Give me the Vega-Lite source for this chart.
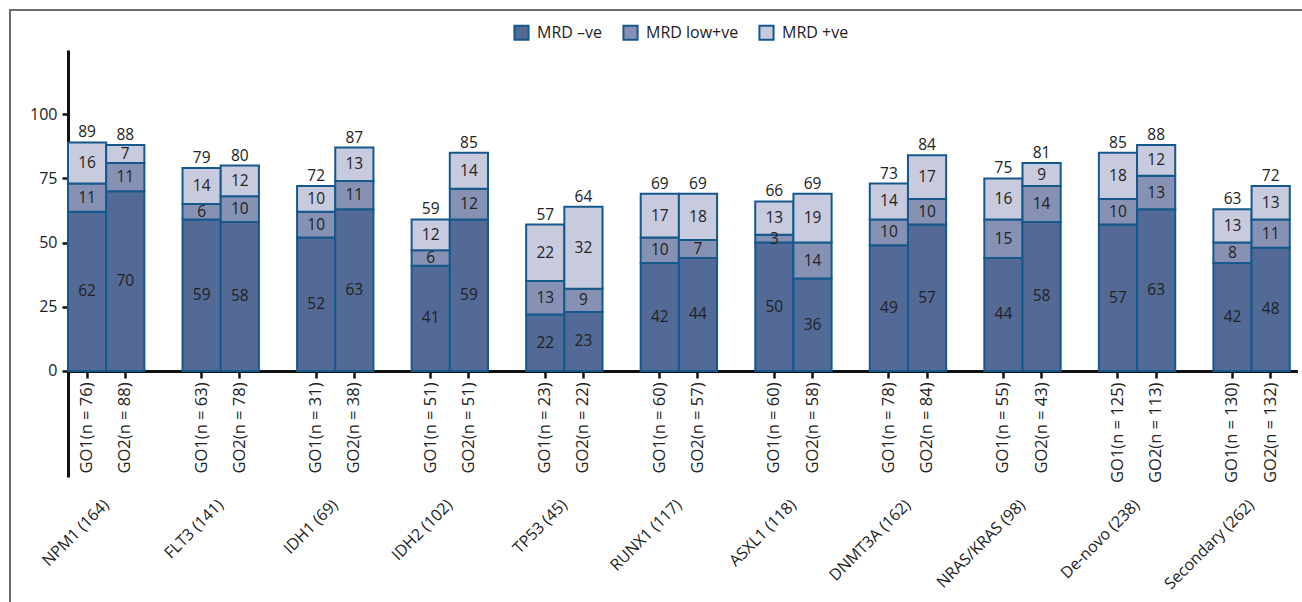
{
  "$schema": "https://vega.github.io/schema/vega-lite/v6.json",
  "width": 1292,
  "height": 592,
  "autosize": {"type": "none"},
  "padding": {"left": 10, "top": 10, "right": 0, "bottom": 0},
  "background": "white",
  "config": {
    "font": "Open Sans",
    "view": {"stroke": "#6d6d6d", "strokeWidth": 2, "strokeDash": [1292, 1884, 592]},
    "text": {"font": "Open Sans", "fontSize": 15.5, "color": "#222222"},
    "axis": {"labelFont": "Open Sans", "labelColor": "#222222", "grid": false, "title": null}
  },
  "data": {
    "values": [
      {"bar": "NPM1 (164)|GO1(n = 76)", "status": "MRD –ve", "value": 62},
      {"bar": "NPM1 (164)|GO1(n = 76)", "status": "MRD low+ve", "value": 11},
      {"bar": "NPM1 (164)|GO1(n = 76)", "status": "MRD +ve", "value": 16},
      {"bar": "NPM1 (164)|GO2(n = 88)", "status": "MRD –ve", "value": 70},
      {"bar": "NPM1 (164)|GO2(n = 88)", "status": "MRD low+ve", "value": 11},
      {"bar": "NPM1 (164)|GO2(n = 88)", "status": "MRD +ve", "value": 7},
      {"bar": "FLT3 (141)|GO1(n = 63)", "status": "MRD –ve", "value": 59},
      {"bar": "FLT3 (141)|GO1(n = 63)", "status": "MRD low+ve", "value": 6},
      {"bar": "FLT3 (141)|GO1(n = 63)", "status": "MRD +ve", "value": 14},
      {"bar": "FLT3 (141)|GO2(n = 78)", "status": "MRD –ve", "value": 58},
      {"bar": "FLT3 (141)|GO2(n = 78)", "status": "MRD low+ve", "value": 10},
      {"bar": "FLT3 (141)|GO2(n = 78)", "status": "MRD +ve", "value": 12},
      {"bar": "IDH1 (69)|GO1(n = 31)", "status": "MRD –ve", "value": 52},
      {"bar": "IDH1 (69)|GO1(n = 31)", "status": "MRD low+ve", "value": 10},
      {"bar": "IDH1 (69)|GO1(n = 31)", "status": "MRD +ve", "value": 10},
      {"bar": "IDH1 (69)|GO2(n = 38)", "status": "MRD –ve", "value": 63},
      {"bar": "IDH1 (69)|GO2(n = 38)", "status": "MRD low+ve", "value": 11},
      {"bar": "IDH1 (69)|GO2(n = 38)", "status": "MRD +ve", "value": 13},
      {"bar": "IDH2 (102)|GO1(n = 51)", "status": "MRD –ve", "value": 41},
      {"bar": "IDH2 (102)|GO1(n = 51)", "status": "MRD low+ve", "value": 6},
      {"bar": "IDH2 (102)|GO1(n = 51)", "status": "MRD +ve", "value": 12},
      {"bar": "IDH2 (102)|GO2(n = 51)", "status": "MRD –ve", "value": 59},
      {"bar": "IDH2 (102)|GO2(n = 51)", "status": "MRD low+ve", "value": 12},
      {"bar": "IDH2 (102)|GO2(n = 51)", "status": "MRD +ve", "value": 14},
      {"bar": "TP53 (45)|GO1(n = 23)", "status": "MRD –ve", "value": 22},
      {"bar": "TP53 (45)|GO1(n = 23)", "status": "MRD low+ve", "value": 13},
      {"bar": "TP53 (45)|GO1(n = 23)", "status": "MRD +ve", "value": 22},
      {"bar": "TP53 (45)|GO2(n = 22)", "status": "MRD –ve", "value": 23},
      {"bar": "TP53 (45)|GO2(n = 22)", "status": "MRD low+ve", "value": 9},
      {"bar": "TP53 (45)|GO2(n = 22)", "status": "MRD +ve", "value": 32},
      {"bar": "RUNX1 (117)|GO1(n = 60)", "status": "MRD –ve", "value": 42},
      {"bar": "RUNX1 (117)|GO1(n = 60)", "status": "MRD low+ve", "value": 10},
      {"bar": "RUNX1 (117)|GO1(n = 60)", "status": "MRD +ve", "value": 17},
      {"bar": "RUNX1 (117)|GO2(n = 57)", "status": "MRD –ve", "value": 44},
      {"bar": "RUNX1 (117)|GO2(n = 57)", "status": "MRD low+ve", "value": 7},
      {"bar": "RUNX1 (117)|GO2(n = 57)", "status": "MRD +ve", "value": 18},
      {"bar": "ASXL1 (118)|GO1(n = 60)", "status": "MRD –ve", "value": 50},
      {"bar": "ASXL1 (118)|GO1(n = 60)", "status": "MRD low+ve", "value": 3},
      {"bar": "ASXL1 (118)|GO1(n = 60)", "status": "MRD +ve", "value": 13},
      {"bar": "ASXL1 (118)|GO2(n = 58)", "status": "MRD –ve", "value": 36},
      {"bar": "ASXL1 (118)|GO2(n = 58)", "status": "MRD low+ve", "value": 14},
      {"bar": "ASXL1 (118)|GO2(n = 58)", "status": "MRD +ve", "value": 19},
      {"bar": "DNMT3A (162)|GO1(n = 78)", "status": "MRD –ve", "value": 49},
      {"bar": "DNMT3A (162)|GO1(n = 78)", "status": "MRD low+ve", "value": 10},
      {"bar": "DNMT3A (162)|GO1(n = 78)", "status": "MRD +ve", "value": 14},
      {"bar": "DNMT3A (162)|GO2(n = 84)", "status": "MRD –ve", "value": 57},
      {"bar": "DNMT3A (162)|GO2(n = 84)", "status": "MRD low+ve", "value": 10},
      {"bar": "DNMT3A (162)|GO2(n = 84)", "status": "MRD +ve", "value": 17},
      {"bar": "NRAS/KRAS (98)|GO1(n = 55)", "status": "MRD –ve", "value": 44},
      {"bar": "NRAS/KRAS (98)|GO1(n = 55)", "status": "MRD low+ve", "value": 15},
      {"bar": "NRAS/KRAS (98)|GO1(n = 55)", "status": "MRD +ve", "value": 16},
      {"bar": "NRAS/KRAS (98)|GO2(n = 43)", "status": "MRD –ve", "value": 58},
      {"bar": "NRAS/KRAS (98)|GO2(n = 43)", "status": "MRD low+ve", "value": 14},
      {"bar": "NRAS/KRAS (98)|GO2(n = 43)", "status": "MRD +ve", "value": 9},
      {"bar": "De-novo (238)|GO1(n = 125)", "status": "MRD –ve", "value": 57},
      {"bar": "De-novo (238)|GO1(n = 125)", "status": "MRD low+ve", "value": 10},
      {"bar": "De-novo (238)|GO1(n = 125)", "status": "MRD +ve", "value": 18},
      {"bar": "De-novo (238)|GO2(n = 113)", "status": "MRD –ve", "value": 63},
      {"bar": "De-novo (238)|GO2(n = 113)", "status": "MRD low+ve", "value": 13},
      {"bar": "De-novo (238)|GO2(n = 113)", "status": "MRD +ve", "value": 12},
      {"bar": "Secondary (262)|GO1(n = 130)", "status": "MRD –ve", "value": 42},
      {"bar": "Secondary (262)|GO1(n = 130)", "status": "MRD low+ve", "value": 8},
      {"bar": "Secondary (262)|GO1(n = 130)", "status": "MRD +ve", "value": 13},
      {"bar": "Secondary (262)|GO2(n = 132)", "status": "MRD –ve", "value": 48},
      {"bar": "Secondary (262)|GO2(n = 132)", "status": "MRD low+ve", "value": 11},
      {"bar": "Secondary (262)|GO2(n = 132)", "status": "MRD +ve", "value": 13}
    ]
  },
  "resolve": {"axis": {"x": "independent"}},
  "layer": [
    {
      "mark": {"type": "bar", "stroke": "#15588c", "strokeWidth": 2, "fillOpacity": 1},
      "encoding": {
        "x": {
          "field": "bar", "type": "nominal",
          "scale": {
            "type": "band",
            "domain": [
              "NPM1 (164)|GO1(n = 76)", "NPM1 (164)|GO2(n = 88)", "sp1",
              "FLT3 (141)|GO1(n = 63)", "FLT3 (141)|GO2(n = 78)", "sp2",
              "IDH1 (69)|GO1(n = 31)", "IDH1 (69)|GO2(n = 38)", "sp3",
              "IDH2 (102)|GO1(n = 51)", "IDH2 (102)|GO2(n = 51)", "sp4",
              "TP53 (45)|GO1(n = 23)", "TP53 (45)|GO2(n = 22)", "sp5",
              "RUNX1 (117)|GO1(n = 60)", "RUNX1 (117)|GO2(n = 57)", "sp6",
              "ASXL1 (118)|GO1(n = 60)", "ASXL1 (118)|GO2(n = 58)", "sp7",
              "DNMT3A (162)|GO1(n = 78)", "DNMT3A (162)|GO2(n = 84)", "sp8",
              "NRAS/KRAS (98)|GO1(n = 55)", "NRAS/KRAS (98)|GO2(n = 43)", "sp9",
              "De-novo (238)|GO1(n = 125)", "De-novo (238)|GO2(n = 113)", "sp10",
              "Secondary (262)|GO1(n = 130)", "Secondary (262)|GO2(n = 132)"
            ],
            "range": [58, 1287.4],
            "paddingInner": 0,
            "paddingOuter": 0.1,
            "align": 0
          },
          "axis": {
            "orient": "bottom",
            "offset": -231,
            "values": [
              "NPM1 (164)|GO1(n = 76)", "NPM1 (164)|GO2(n = 88)",
              "FLT3 (141)|GO1(n = 63)", "FLT3 (141)|GO2(n = 78)",
              "IDH1 (69)|GO1(n = 31)", "IDH1 (69)|GO2(n = 38)",
              "IDH2 (102)|GO1(n = 51)", "IDH2 (102)|GO2(n = 51)",
              "TP53 (45)|GO1(n = 23)", "TP53 (45)|GO2(n = 22)",
              "RUNX1 (117)|GO1(n = 60)", "RUNX1 (117)|GO2(n = 57)",
              "ASXL1 (118)|GO1(n = 60)", "ASXL1 (118)|GO2(n = 58)",
              "DNMT3A (162)|GO1(n = 78)", "DNMT3A (162)|GO2(n = 84)",
              "NRAS/KRAS (98)|GO1(n = 55)", "NRAS/KRAS (98)|GO2(n = 43)",
              "De-novo (238)|GO1(n = 125)", "De-novo (238)|GO2(n = 113)",
              "Secondary (262)|GO1(n = 130)", "Secondary (262)|GO2(n = 132)"
            ],
            "labelExpr": "split(datum.label, '|')[1]",
            "labelAngle": 270,
            "labelFontSize": 16.5,
            "labelPadding": 4,
            "labelOverlap": false,
            "labelBound": false,
            "labelFlush": false,
            "tickSize": 7,
            "tickWidth": 2.5,
            "tickColor": "#111111",
            "domainColor": "#111111",
            "domainWidth": 3,
            "title": null
          }
        },
        "y": {
          "field": "value", "type": "quantitative", "stack": "zero",
          "scale": {"domain": [-41.3, 125], "range": [467, 40], "nice": false, "zero": false},
          "axis": {
            "values": [0, 25, 50, 75, 100],
            "offset": -58,
            "tickSize": 6,
            "tickWidth": 2.5,
            "tickColor": "#111111",
            "domainColor": "#111111",
            "domainWidth": 3,
            "labelFontSize": 16,
            "labelPadding": 5,
            "title": null
          }
        },
        "color": {
          "field": "status", "type": "nominal",
          "scale": {
            "domain": ["MRD –ve", "MRD low+ve", "MRD +ve"],
            "range": ["#536996", "#8691b3", "#c8cbdd"]
          },
          "legend": {
            "orient": "none",
            "legendX": 503,
            "legendY": 14,
            "direction": "horizontal",
            "title": null,
            "symbolType": "square",
            "symbolSize": 200,
            "symbolStrokeColor": "#15588c",
            "symbolStrokeWidth": 2,
            "symbolOpacity": 1,
            "labelFontSize": 16,
            "labelFont": "Open Sans",
            "labelColor": "#222222",
            "labelOffset": 7,
            "columnPadding": 16
          }
        },
        "order": {"field": "status", "sort": "descending"}
      }
    },
    {
      "mark": {"type": "text", "baseline": "middle", "fontSize": 15.5},
      "encoding": {
        "x": {"field": "bar", "type": "nominal", "axis": null},
        "y": {"field": "value", "type": "quantitative", "stack": "zero", "bandPosition": 0.5},
        "detail": {"field": "status"},
        "order": {"field": "status", "sort": "descending"},
        "text": {"field": "value", "type": "quantitative"}
      }
    },
    {
      "mark": {"type": "text", "baseline": "bottom", "dy": -2, "fontSize": 15.5},
      "encoding": {
        "x": {
          "field": "bar", "type": "nominal",
          "axis": {
            "orient": "bottom",
            "offset": -100,
            "values": [
              "NPM1 (164)|GO2(n = 88)", "FLT3 (141)|GO2(n = 78)", "IDH1 (69)|GO2(n = 38)",
              "IDH2 (102)|GO2(n = 51)", "TP53 (45)|GO2(n = 22)", "RUNX1 (117)|GO2(n = 57)",
              "ASXL1 (118)|GO2(n = 58)", "DNMT3A (162)|GO2(n = 84)", "NRAS/KRAS (98)|GO2(n = 43)",
              "De-novo (238)|GO2(n = 113)", "Secondary (262)|GO2(n = 132)"
            ],
            "bandPosition": 0.5,
            "labelOffset": -19,
            "labelExpr": "split(datum.label, '|')[0]",
            "labelAngle": 315,
            "labelAlign": "right",
            "labelBaseline": "middle",
            "labelFontSize": 16,
            "labelPadding": 0,
            "labelOverlap": false,
            "labelBound": false,
            "labelFlush": false,
            "ticks": false,
            "domain": false,
            "title": null
          }
        },
        "y": {"aggregate": "sum", "field": "value", "type": "quantitative"},
        "text": {"aggregate": "sum", "field": "value", "type": "quantitative"}
      }
    }
  ]
}
